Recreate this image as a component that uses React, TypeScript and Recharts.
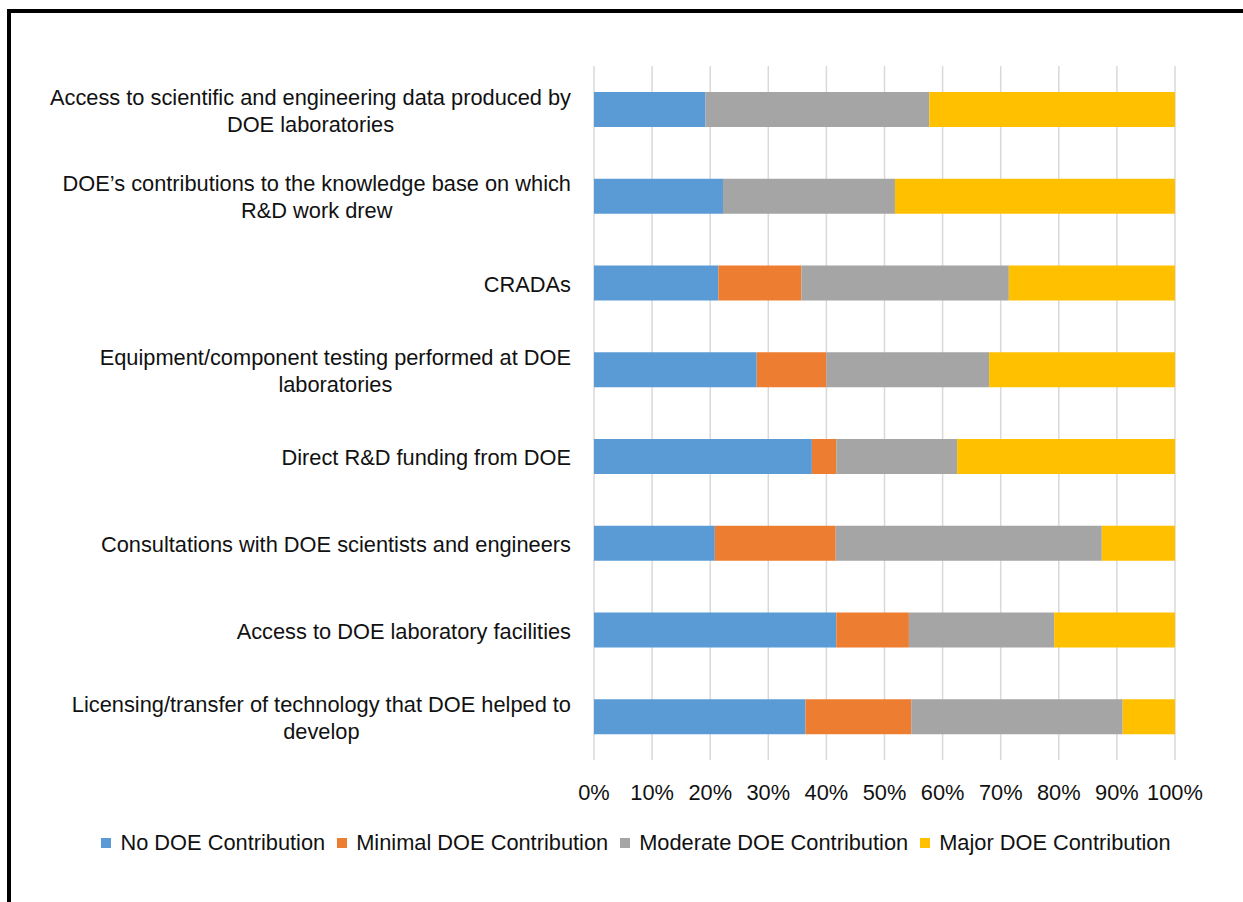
import { BarChart, Bar, XAxis, YAxis, CartesianGrid } from "recharts"

// Survey rows, top to bottom
const categories = [
  "Access to scientific and engineering data produced by\nDOE laboratories",
  "DOE’s contributions to the knowledge base on which\nR&D work drew",
  "CRADAs",
  "Equipment/component testing performed at DOE\nlaboratories",
  "Direct R&D funding from DOE",
  "Consultations with DOE scientists and engineers",
  "Access to DOE laboratory facilities",
  "Licensing/transfer of technology that DOE helped to\ndevelop",
]

// Shares of respondents, in percent
const noContribution = [19.2, 22.2, 21.4, 28, 37.5, 20.8, 41.7, 36.4]
const minimalContribution = [0, 0, 14.3, 12, 4.2, 20.8, 12.5, 18.2]
const moderateContribution = [38.5, 29.6, 35.7, 28, 20.8, 45.8, 25.0, 36.4]
const majorContribution = [42.3, 48.2, 28.6, 32, 37.5, 12.6, 20.8, 9.0]

const xTicks = [0, 10, 20, 30, 40, 50, 60, 70, 80, 90, 100]

const series = [
  { key: "none", name: "No DOE Contribution", color: "#5B9BD5" },
  { key: "minimal", name: "Minimal DOE Contribution", color: "#ED7D31" },
  { key: "moderate", name: "Moderate DOE Contribution", color: "#A5A5A5" },
  { key: "major", name: "Major DOE Contribution", color: "#FFC000" },
]

const data = categories.map((name, i) => ({
  name,
  none: noContribution[i],
  minimal: minimalContribution[i],
  moderate: moderateContribution[i],
  major: majorContribution[i],
}))

const FONT = '"Liberation Sans", Arial, sans-serif'
const LABEL_SIZE = 21.8
const TEXT_COLOR = "#111"
const PLOT_LEFT = 594

let ctx: CanvasRenderingContext2D | null = null
const measure = (text: string, size: number) => {
  if (!ctx) ctx = document.createElement("canvas").getContext("2d")
  if (!ctx) return text.length * size * 0.5
  ctx.font = `${size}px ${FONT}`
  return ctx.measureText(text).width
}

// multi-line labels are centred on each other, block right-aligned to the axis
const CategoryTick = ({ y, payload }: any) => {
  const lines = String(payload.value).split("\n")
  const right = PLOT_LEFT - 23
  const widest = Math.max(...lines.map((l) => measure(l, LABEL_SIZE)))
  const cx = right - widest / 2
  const lh = 27
  const startY = y - ((lines.length - 1) * lh) / 2
  return (
    <text textAnchor="middle" fontSize={LABEL_SIZE} fontFamily={FONT} fill={TEXT_COLOR}>
      {lines.map((l, i) => (
        <tspan key={i} x={cx} y={startY + i * lh + 1} dy="0.35em">
          {l}
        </tspan>
      ))}
    </text>
  )
}

const PercentTick = ({ x, y, payload }: any) => (
  <text x={x} y={y + 32} textAnchor="middle" fontSize={LABEL_SIZE} fontFamily={FONT} fill={TEXT_COLOR}>
    {payload.value}%
  </text>
)

export default function App() {
  return (
    <div style={{ position: "fixed", left: 0, top: 0, width: 1243, height: 902, background: "#fff", overflow: "hidden" }}>
      <div
        style={{
          position: "absolute",
          left: 7,
          top: 9,
          width: 1236,
          height: 893,
          borderTop: "4px solid #000",
          borderLeft: "4px solid #000",
          boxSizing: "border-box",
        }}
      />
      <div style={{ position: "absolute", left: 0, top: 0 }}>
        <BarChart
          width={1243}
          height={902}
          data={data}
          layout="vertical"
          margin={{ top: 66, right: 68, left: 0, bottom: 0 }}
          barSize={35}
        >
          <CartesianGrid horizontal={false} stroke="#d9d9d9" strokeWidth={1.5} />
          <XAxis
            type="number"
            domain={[0, 100]}
            ticks={xTicks}
            axisLine={false}
            tickLine={false}
            height={142}
            tick={<PercentTick />}
            interval={0}
            allowDataOverflow
          />
          <YAxis
            type="category"
            dataKey="name"
            width={594}
            axisLine={false}
            tickLine={false}
            interval={0}
            tick={<CategoryTick />}
          />
          {series.map((s) => (
            <Bar key={s.key} dataKey={s.key} name={s.name} stackId="a" fill={s.color} isAnimationActive={false} />
          ))}
        </BarChart>
      </div>
      <div
        style={{
          position: "absolute",
          left: 0,
          top: 830,
          width: 1284,
          display: "flex",
          justifyContent: "center",
          fontFamily: FONT,
          fontSize: LABEL_SIZE,
          color: TEXT_COLOR,
          lineHeight: "26px",
        }}
      >
        {series.map((s) => (
          <div key={s.key} style={{ display: "flex", alignItems: "center", marginRight: 12 }}>
            <span style={{ width: 10, height: 10, background: s.color, marginRight: 9 }} />
            <span>{s.name}</span>
          </div>
        ))}
      </div>
    </div>
  )
}
